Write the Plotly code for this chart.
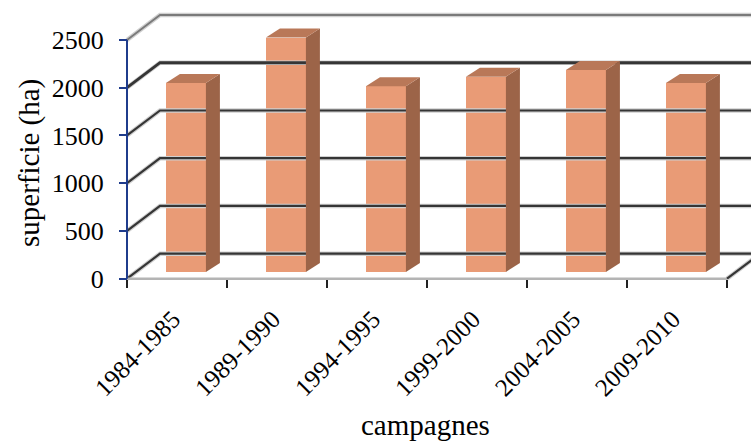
import plotly.graph_objects as go

# ---- data ----
campagnes = ["1984-1985", "1989-1990", "1994-1995", "1999-2000", "2004-2005", "2009-2010"]
superficie = [1980, 2455, 1945, 2045, 2115, 1980]
y_ticks = [0, 500, 1000, 1500, 2000, 2500]

# ---- geometry (pixel layout of the pseudo-3D frame) ----
W, H = 751, 442
M_L, M_R, M_T, M_B = 120, 0, 5, 160
PLOT_W = W - M_L - M_R
PLOT_H = H - M_T - M_B
CAT_PX = 100.0            # pixels per category
X_EDGE_PX = 127.0         # pixel of the front-left corner
Y0_PX = 278.7             # pixel of value 0 on the front plane
PX_PER_UNIT = 238.7 / 2500.0

x_lo = -0.5 - (X_EDGE_PX - M_L) / CAT_PX
x_hi = x_lo + PLOT_W / CAT_PX
y_lo = -((M_T + PLOT_H) - Y0_PX) / PX_PER_UNIT
y_hi = (Y0_PX - M_T) / PX_PER_UNIT

DEPTH_DX = 33 / CAT_PX            # full depth of the floor in x units
DEPTH_DY = 25 / PX_PER_UNIT       # full depth of the floor in value units
BAR_F = 0.27                      # bar front plane as fraction of depth
BAR_DX = 14 / CAT_PX
BAR_DY = 9 / PX_PER_UNIT
BAR_W = 0.40

n = len(campagnes)
left = -0.5
right = n - 0.5

FRONT = "#E99B76"
SIDE = "#9C6448"
TOP = "#B97858"
GRID = "#353535"


def px_to_paper(px, py):
    return (px - M_L) / PLOT_W, (M_T + PLOT_H - py) / PLOT_H


fig = go.Figure()

# back wall + left wall grid lines
for v in y_ticks:
    xs = [left, left + DEPTH_DX, x_hi + 1]
    ys = [v, v + DEPTH_DY, v + DEPTH_DY]
    top = v == y_ticks[-1]
    fig.add_trace(go.Scatter(x=xs, y=ys, mode="lines",
                             line=dict(color="#d0d0d0", width=4.5),
                             hoverinfo="skip", showlegend=False))
    fig.add_trace(go.Scatter(x=xs, y=ys, mode="lines",
                             line=dict(color="#7a7a7a" if top else GRID,
                                       width=1.8 if top else (2.8 if v == 2000 else 2.2)),
                             hoverinfo="skip", showlegend=False))

# floor: front edge and right edge
fig.add_trace(go.Scatter(x=[left, right], y=[0, 0], mode="lines",
                         line=dict(color="#b4b4b4", width=2.5),
                         hoverinfo="skip", showlegend=False))
fig.add_trace(go.Scatter(x=[right, right + DEPTH_DX], y=[0, DEPTH_DY], mode="lines",
                         line=dict(color="#d0d0d0", width=4.5),
                         hoverinfo="skip", showlegend=False))
fig.add_trace(go.Scatter(x=[right, right + DEPTH_DX], y=[0, DEPTH_DY], mode="lines",
                         line=dict(color=GRID, width=2.2),
                         hoverinfo="skip", showlegend=False))

# bars: front faces
base = BAR_F * DEPTH_DY
xc = [i + BAR_F * DEPTH_DX for i in range(n)]
fig.add_trace(go.Bar(x=xc, y=superficie, base=base, width=BAR_W,
                     marker=dict(color=FRONT, line=dict(width=0)),
                     showlegend=False, hoverinfo="skip"))

# bars: side and top faces
for x, v in zip(xc, superficie):
    xl, xr = x - BAR_W / 2, x + BAR_W / 2
    b, t = base, base + v
    fig.add_trace(go.Scatter(
        x=[xr, xr + BAR_DX, xr + BAR_DX, xr, xr],
        y=[b, b + BAR_DY, t + BAR_DY, t, b],
        fill="toself", fillcolor=SIDE, mode="lines", line=dict(width=0, color=SIDE),
        hoverinfo="skip", showlegend=False))
    fig.add_trace(go.Scatter(
        x=[xl, xl + BAR_DX, xr + BAR_DX, xr, xl],
        y=[t, t + BAR_DY, t + BAR_DY, t, t],
        fill="toself", fillcolor=TOP, mode="lines", line=dict(width=0, color=TOP),
        hoverinfo="skip", showlegend=False))

# y axis line
fig.add_trace(go.Scatter(x=[left, left], y=[0, y_ticks[-1]], mode="lines",
                         line=dict(color="#1f3c8c", width=2),
                         hoverinfo="skip", showlegend=False))

FONT = "Liberation Serif"

xt_x, xt_y = px_to_paper(425, 425)
yt_x, yt_y = px_to_paper(29, 163)

fig.update_layout(
    width=W, height=H,
    margin=dict(l=M_L, r=M_R, t=M_T, b=M_B, pad=0),
    paper_bgcolor="white", plot_bgcolor="white",
    font=dict(family=FONT, size=24, color="black"),
    bargap=0,
    xaxis=dict(
        range=[x_lo, x_hi], showgrid=False, zeroline=False, showline=False,
        anchor="free", position=(H - M_B - Y0_PX) / PLOT_H,
        tickmode="array", tickvals=[i - 0.04 for i in range(n)], ticktext=campagnes,
        ticks="", tickangle=-45, ticklabelstandoff=20,
        tickfont=dict(family=FONT, size=25, color="black"),
        minor=dict(ticks="outside", tickmode="array",
                   tickvals=[i - 0.5 for i in range(n + 1)],
                   ticklen=8, tickwidth=2, tickcolor="#222", showgrid=False),
        fixedrange=True,
    ),
    yaxis=dict(
        range=[y_lo, y_hi], showgrid=False, zeroline=False, showline=False,
        anchor="free", position=(X_EDGE_PX - M_L) / PLOT_W,
        tickmode="array", tickvals=y_ticks, ticktext=[str(v) for v in y_ticks],
        ticks="outside", ticklen=8, tickwidth=2, tickcolor="#1f3c8c",
        ticklabelstandoff=10,
        tickfont=dict(family=FONT, size=26, color="black"),
        fixedrange=True,
    ),
    annotations=[
        dict(text="campagnes", xref="paper", yref="paper", x=xt_x, y=xt_y,
             xanchor="center", yanchor="middle", showarrow=False,
             font=dict(family=FONT, size=29, color="black")),
        dict(text="superficie (ha)", xref="paper", yref="paper", x=yt_x, y=yt_y,
             xanchor="center", yanchor="middle", textangle=-90, showarrow=False,
             font=dict(family=FONT, size=29, color="black")),
    ],
)

fig.write_html("out.html")
